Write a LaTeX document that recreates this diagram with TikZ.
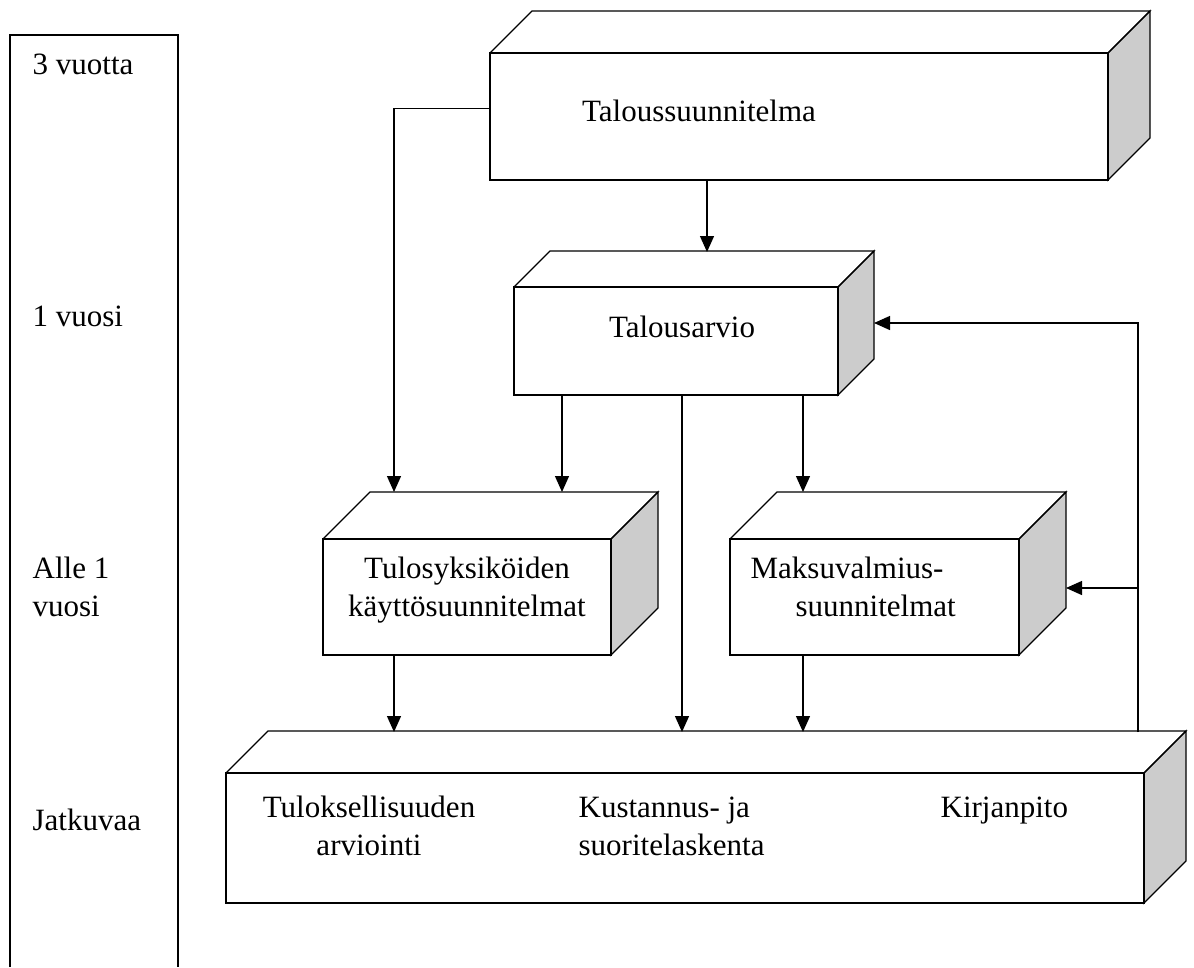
\documentclass[tikz,border=0pt]{standalone}
\usepackage{fontspec}
\setmainfont{Liberation Serif}
\usetikzlibrary{arrows.meta}

% cuboid: name, front top-left x,y, front bottom-right x,y, depth
\newcommand{\kuutio}[6]{%
  \filldraw[fill=black!20] (#4,#3) -- ++(#6,-#6) -- ({#4+#6},{#5-#6}) -- (#4,#5) -- cycle;
  \draw (#2,#3) -- ++(#6,-#6) -- ({#4+#6},{#3-#6}) -- (#4,#3);
  \node[etu, minimum width={#4-#2}, minimum height={#5-#3}] (#1) at ({(#2+#4)/2},{(#3+#5)/2}) {};
}

\begin{document}
\begin{tikzpicture}[x=1pt,y=-1pt,line width=1.3pt,>={Triangle[length=16pt,width=14pt]},
  every node/.style={font=\fontsize{31}{38}\selectfont}]
\tikzstyle{etu} = [draw,fill=white,inner sep=0pt]
\tikzstyle{teksti} = [inner sep=0pt]
\useasboundingbox (0,0) rectangle (1194,967);

% time scale on the left
\draw (10,967) -- (10,35) -- (178,35) -- (178,967);
\node [teksti,anchor=base west] (a1) at (32,74) {3 vuotta};
\node [teksti,anchor=base west] (a2) at (32,326) {1 vuosi};
\node [teksti,anchor=west,align=left] (a3) at (32,587) {Alle 1\\vuosi};
\node [teksti,anchor=base west] (a4) at (32,830) {Jatkuvaa};

% boxes
\kuutio{ts}{490}{53}{1108}{180}{42}
\kuutio{ta}{514}{287}{838}{395}{36}
\kuutio{ty}{323}{539}{611}{655}{47}
\kuutio{mv}{730}{539}{1019}{655}{47}
\kuutio{kp}{226}{773}{1144}{903}{42}

\node [teksti,anchor=base] (ts-t) at (699,121) {Taloussuunnitelma};
\node [teksti,anchor=base] (ta-t) at (682,337) {Talousarvio};
\node [teksti,align=center] (ty-t) at (467,590) {Tulosyksiköiden\\käyttösuunnitelmat};
\node [teksti,anchor=west,align=left] (mv-t) at (750,587) {Maksuvalmius-\\\hspace*{45pt}suunnitelmat};
\node [teksti,align=center] (kp-t1) at (369,826) {Tuloksellisuuden\\arviointi};
\node [teksti,anchor=west,align=left] (kp-t2) at (578,826) {Kustannus- ja\\suoritelaskenta};
\node [teksti,anchor=base west] (kp-t3) at (940,817) {Kirjanpito};

% arrow ends on the back edges
\coordinate (ta-in) at (707,252);
\coordinate (ty-in1) at (394,492);
\coordinate (ty-in2) at (562,492);
\coordinate (mv-in) at (803,492);
\coordinate (kp-in1) at (394,732);
\coordinate (kp-in2) at (682,732);
\coordinate (kp-in3) at (803,732);
\coordinate (kp-out) at (1138,732);
\coordinate (ta-side) at (874,323);
\coordinate (mv-side) at (1066,588);

\draw[->] ([yshift=8pt]ts.west) -| (ty-in1);
\draw[->] (ts.south -| ta-in) -- (ta-in);
\draw[->] (ta.south -| ty-in2) -- (ty-in2);
\draw[->] (ta.south -| kp-in2) -- (kp-in2);
\draw[->] (ta.south -| mv-in) -- (mv-in);
\draw[->] (ty.south -| kp-in1) -- (kp-in1);
\draw[->] (mv.south -| kp-in3) -- (kp-in3);
\draw[->] (kp-out) |- (ta-side);
\draw[->] (kp-out |- mv-side) -- (mv-side);
\end{tikzpicture}
\end{document}
